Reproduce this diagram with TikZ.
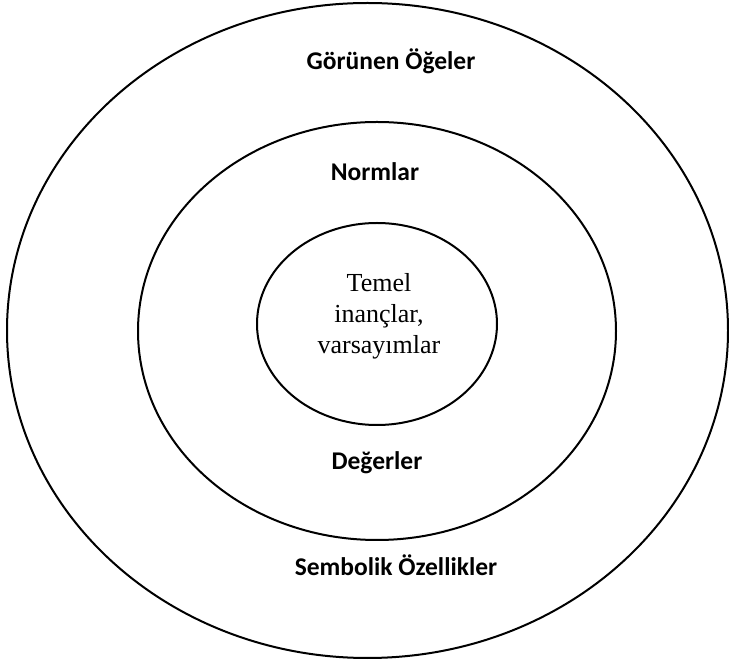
\documentclass[tikz,border=0pt]{standalone}
\usepackage{fontspec}
\setmainfont{Liberation Serif}
\newfontfamily\calib{Carlito}
\tikzset{
  ring/.style={draw=black, line width=2pt},
  lbl/.style={font=\calib\bfseries\fontsize{25.5}{30}\selectfont, text=black, inner sep=0pt},
  corelbl/.style={font=\fontsize{26}{31}\selectfont, align=center, text=black, inner sep=0pt}
}
\begin{document}
\begin{tikzpicture}[x=1pt,y=1pt]
\useasboundingbox (0,0) rectangle (729,662);
% pixel coords: x = px, y = 662 - py
\draw[ring] (367.5,331.5) ellipse [x radius=360.5, y radius=327.5];
\draw[ring] (377,331) ellipse [x radius=239, y radius=209];
\draw[ring] (377,338) ellipse [x radius=120, y radius=101];
\node[lbl] (outertop) at (391,601) {Görünen Öğeler};
\node[lbl] (outerbot) at (396,97) {Sembolik Özellikler};
\node[lbl] (midtop) at (375,490) {Normlar};
\node[lbl] (midbot) at (377,199) {Değerler};
\node[corelbl] (core) at (379,346) {Temel\\inançlar,\\varsayımlar};
\end{tikzpicture}
\end{document}
